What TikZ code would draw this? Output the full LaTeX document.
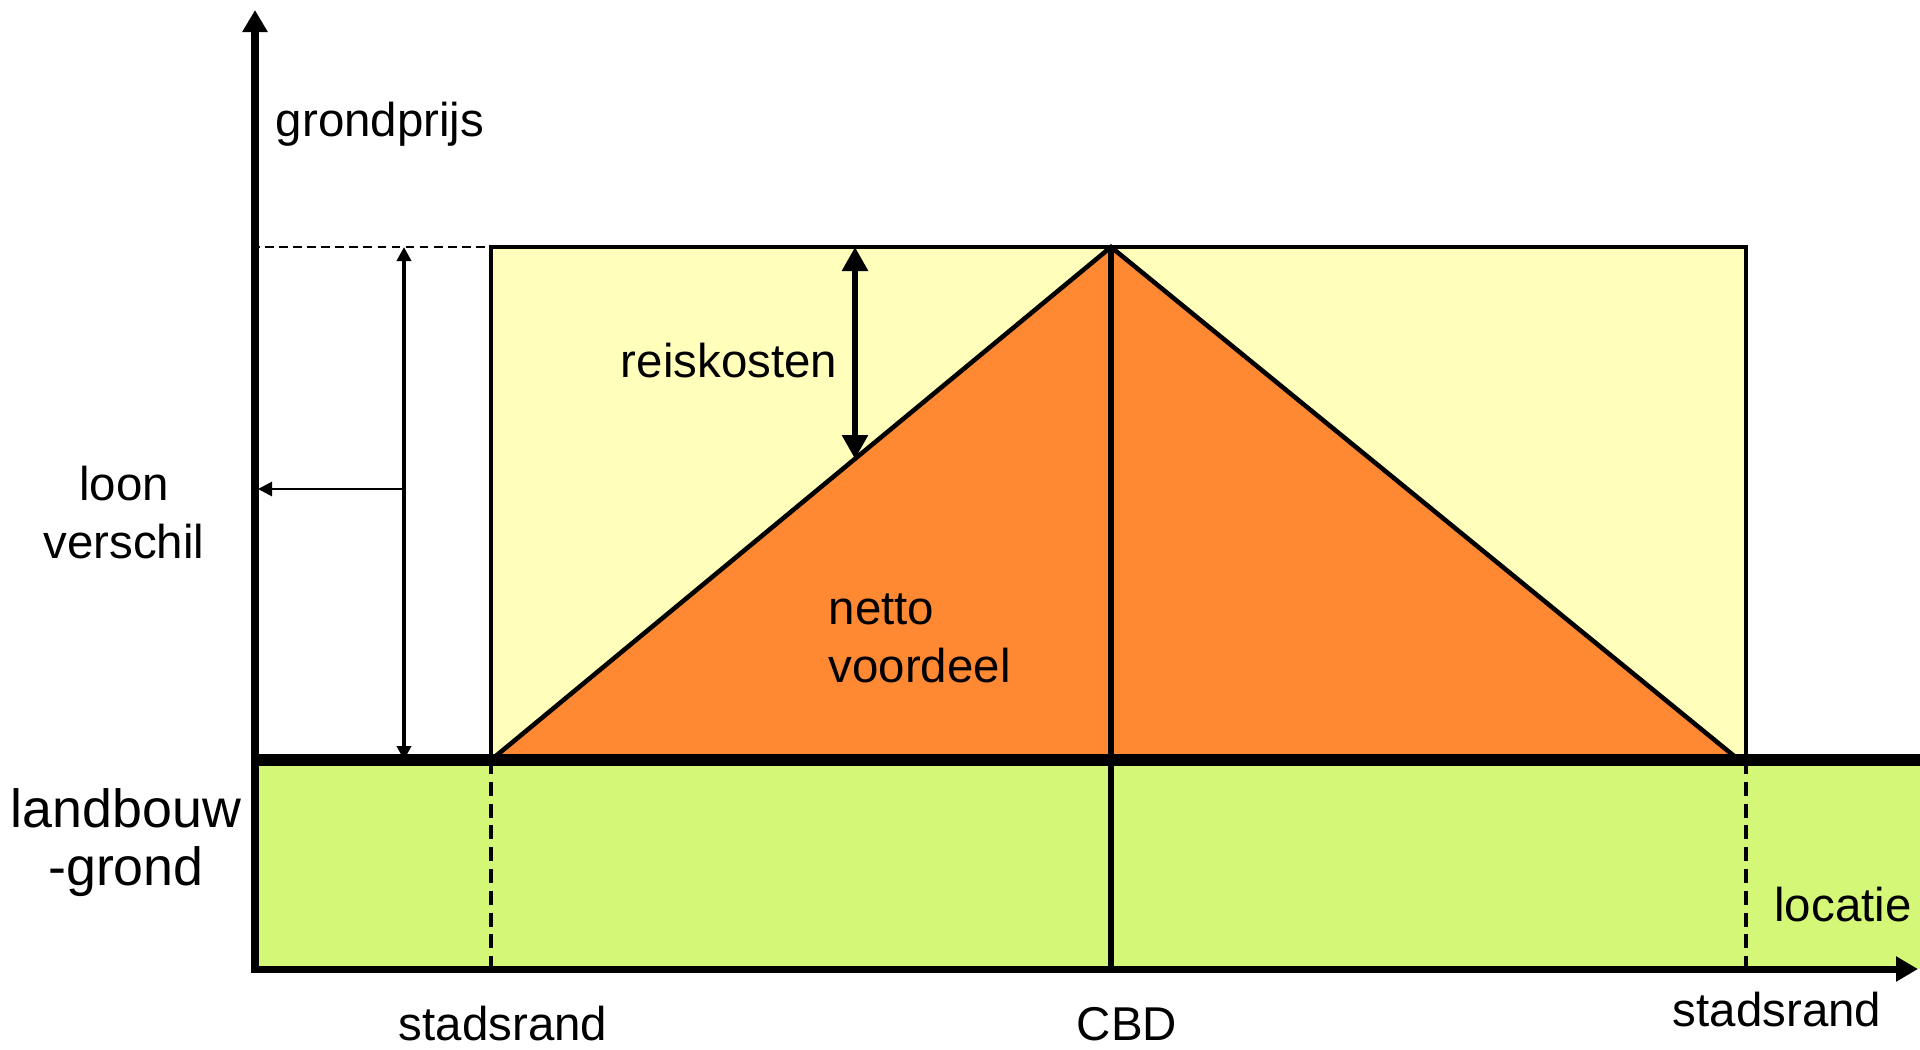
\documentclass[tikz,border=0pt]{standalone}
\usepackage{fontspec}
\setmainfont{Liberation Sans}
\usetikzlibrary{arrows.meta}
\definecolor{stadgeel}{RGB}{255,255,187}
\definecolor{voordeeloranje}{RGB}{255,136,51}
\definecolor{landgroen}{RGB}{212,247,120}

\begin{document}
\begin{tikzpicture}[
    x=0.1mm, y=-0.1mm,
    line join=miter,
    label/.style={font=\fontsize{13.5}{16.5}\selectfont, inner sep=0pt, align=center},
    axis/.style={line width=2pt},
    randlijn/.style={line width=1pt, dash pattern=on 4pt off 2.2pt},
    bigtip/.style={-{Triangle[length=2.2mm,width=2.4mm]}},
    smalltip/.style={{Triangle[length=1.4mm,width=1.4mm]}-{Triangle[length=1.4mm,width=1.4mm]}}
]
\useasboundingbox (0,0) rectangle (1920,1049);

% 1. Points
\coordinate (O) at (255,969);
\coordinate (ytop) at (255,10);
\coordinate (xend) at (1918,969);
\coordinate (base-l) at (251,760);
\coordinate (base-r) at (1920,760);
\coordinate (rand-l) at (491,760);
\coordinate (rand-r) at (1746,760);
\coordinate (tri-r) at (1739,760);
\coordinate (top) at (1111,247);
\coordinate (box-tl) at (491,247);
\coordinate (box-tr) at (1746,247);
\coordinate (dash-l) at (251,247);
\coordinate (cbd-b) at (1111,973);
\coordinate (rand-lb) at (491,969);
\coordinate (rand-rb) at (1746,969);
\coordinate (loon-t) at (404,247);
\coordinate (loon-b) at (404,760);
\coordinate (loon-m) at (404,489);
\coordinate (loon-y) at (258,489);
\coordinate (reis-t) at (855,247);
\coordinate (reis-b) at (855,459);

% 2. Areas
\fill[landgroen] (base-l) rectangle (1920,969);
\draw[fill=stadgeel, line width=1.1pt] (rand-l) rectangle (box-tr);
\draw[fill=voordeeloranje, line width=1.3pt] (rand-l) -- (top) -- (tri-r) -- cycle;

% 3. Lines
\draw[line width=1.7pt] (top) -- (cbd-b);
\draw[line width=3.2pt] (base-l) -- (base-r);
\draw[randlijn] (rand-l) -- (rand-lb);
\draw[randlijn] (rand-r) -- (rand-rb);
\draw[line width=0.8pt, dash pattern=on 2.5pt off 1.5pt] (dash-l) -- (box-tl);

% 4. Axes
\draw[axis, bigtip] (O) -- (ytop);
\draw[axis, bigtip] (251,969) -- (xend);

% 5. Arrows
\draw[line width=1.3pt, smalltip] (loon-b) -- (loon-t);
\draw[line width=0.8pt, -{Triangle[length=1.4mm,width=1.4mm]}] (loon-m) -- (loon-y);
\draw[line width=1.6pt, {Triangle[length=2.4mm,width=2.5mm]}-{Triangle[length=2.4mm,width=2.5mm]}] (reis-t) -- (reis-b);

% 6. Labels
\node[label] (grondprijs) at (380,124) {grondprijs};
\node[label] (loon) at (124,513) {loon\\verschil};
\node[label, font=\fontsize{15.3}{16.5}\selectfont] (landbouw) at (126,843) {landbouw\\-grond};
\node[label] (reiskosten) at (729,361) {reiskosten};
\node[label, align=left, anchor=west] (netto) at (828,638) {netto\\voordeel};
\node[label] (locatie) at (1843,905) {locatie};
\node[label] (stadsrand-l) at (503,1024) {stadsrand};
\node[label] (cbd) at (1127,1024) {CBD};
\node[label] (stadsrand-r) at (1777,1010) {stadsrand};
\end{tikzpicture}
\end{document}
